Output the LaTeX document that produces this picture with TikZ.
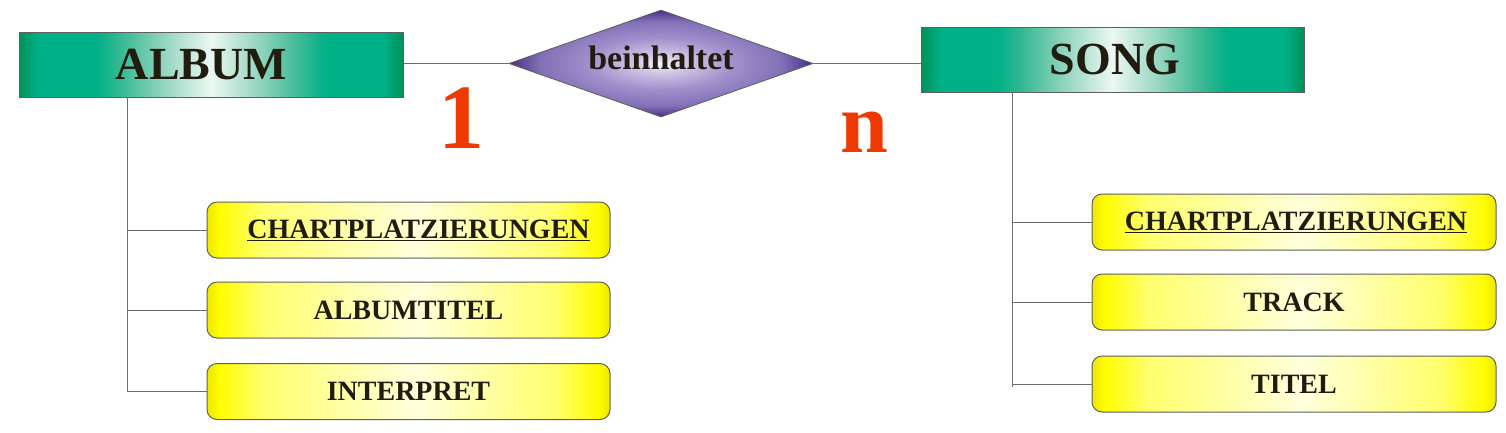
\documentclass[tikz,border=0pt]{standalone}
\usepackage{fontspec}
\setmainfont{Liberation Serif}
\usetikzlibrary{shapes.geometric}
\definecolor{gdark}{RGB}{0,145,88}
\definecolor{gteal}{RGB}{0,176,134}
\definecolor{gmid}{RGB}{50,184,146}
\definecolor{glight}{RGB}{150,214,192}
\definecolor{gwhite}{RGB}{236,248,242}
\definecolor{yedge}{RGB}{236,230,0}
\definecolor{ybright}{RGB}{255,252,0}
\definecolor{ymid}{RGB}{255,255,110}
\definecolor{ypale}{RGB}{255,255,220}
\definecolor{pdark}{RGB}{72,44,134}
\definecolor{pmid2}{RGB}{130,112,182}
\definecolor{pmid}{RGB}{160,144,204}
\definecolor{plight}{RGB}{210,200,232}
\definecolor{pwhite}{RGB}{248,246,252}
\definecolor{numred}{RGB}{238,58,0}
\definecolor{txt}{RGB}{32,28,16}
\definecolor{frame}{RGB}{95,95,95}
\definecolor{conn}{RGB}{110,110,110}
\pgfdeclarehorizontalshading{greenbar}{100bp}{color(0bp)=(gdark); color(25bp)=(gdark); color(27.5bp)=(gteal); color(35bp)=(gteal); color(38bp)=(gmid); color(44bp)=(glight); color(50bp)=(gwhite); color(56bp)=(glight); color(62bp)=(gmid); color(65bp)=(gteal); color(72.5bp)=(gteal); color(75bp)=(gdark); color(100bp)=(gdark)}
\pgfdeclarehorizontalshading{yellowbar}{100bp}{color(0bp)=(yedge); color(25bp)=(yedge); color(26.5bp)=(ybright); color(32bp)=(ymid); color(51bp)=(ypale); color(68bp)=(ymid); color(73.5bp)=(ybright); color(75bp)=(yedge); color(100bp)=(yedge)}
\pgfdeclareradialshading{purplediamond}{\pgfpoint{0bp}{0bp}}{color(0bp)=(pwhite); color(4bp)=(plight); color(12bp)=(pmid); color(20bp)=(pmid2); color(25bp)=(pdark); color(50bp)=(pdark)}
\tikzset{
  entity/.style={draw=frame, line width=1pt, shading=greenbar, minimum width=384pt, minimum height=65pt, inner sep=0pt, text=txt, font=\fontsize{46}{46}\selectfont\bfseries},
  relation/.style={diamond, draw=frame, line width=0.8pt, shading=purplediamond, shape aspect=2.84, minimum width=304pt, minimum height=107pt, inner sep=0pt, text=txt, font=\fontsize{34}{34}\selectfont\bfseries},
  attrib/.style={draw=frame, line width=1pt, rounded corners=10pt, shading=yellowbar, minimum width=403pt, minimum height=56pt, inner sep=0pt, text=txt, font=\fontsize{28}{28}\selectfont\bfseries},
  card/.style={text=numred, inner sep=0pt, font=\fontsize{92}{92}\selectfont\bfseries},
  link/.style={draw=conn, line width=1pt}
}
\begin{document}
\begin{tikzpicture}[x=1pt,y=-1pt]
\useasboundingbox[fill=white] (0,0) rectangle (1506,432);
% entities
\node[entity] (album) at (211,64.5) {ALBUM\hspace*{19pt}};
\node[entity, minimum width=383pt] (song) at (1112.5,59.5) {\hspace*{5pt}SONG};
% relation
\node[relation] (rel) at (661,63.5) {\raisebox{12pt}{beinhaltet}};
% cardinalities
\node[card, anchor=base] (one) at (461,148) {1};
\node[card, anchor=base, font=\fontsize{86}{86}\selectfont\bfseries] (many) at (864,152) {n};
% album attributes
\node[attrib] (a1) at (408.5,230) {\hspace*{20pt}\underline{CHARTPLATZIERUNGEN}};
\node[attrib] (a2) at (408.5,310) {ALBUMTITEL};
\node[attrib] (a3) at (408.5,391.5) {INTERPRET};
% song attributes
\node[attrib, minimum width=404pt] (s1) at (1294,222) {\hspace*{4pt}\underline{CHARTPLATZIERUNGEN}};
\node[attrib, minimum width=404pt] (s2) at (1294,302) {TRACK};
\node[attrib, minimum width=404pt] (s3) at (1294,384) {TITEL};
% connectors entity-relation
\draw[link] (rel.west) -- (rel.west -| album.east);
\draw[link] (rel.east) -- (rel.east -| song.west);
% album tree
\coordinate (atop) at (127,97);
\draw[link] (atop) |- (a3.west);
\draw[link] (atop |- a1.west) -- (a1.west);
\draw[link] (atop |- a2.west) -- (a2.west);
% song tree
\coordinate (stop) at (1012,92);
\draw[link] (stop) -- (1012,387);
\draw[link] (stop |- s1.west) -- (s1.west);
\draw[link] (stop |- s2.west) -- (s2.west);
\draw[link] (stop |- s3.west) -- (s3.west);
\end{tikzpicture}
\end{document}
